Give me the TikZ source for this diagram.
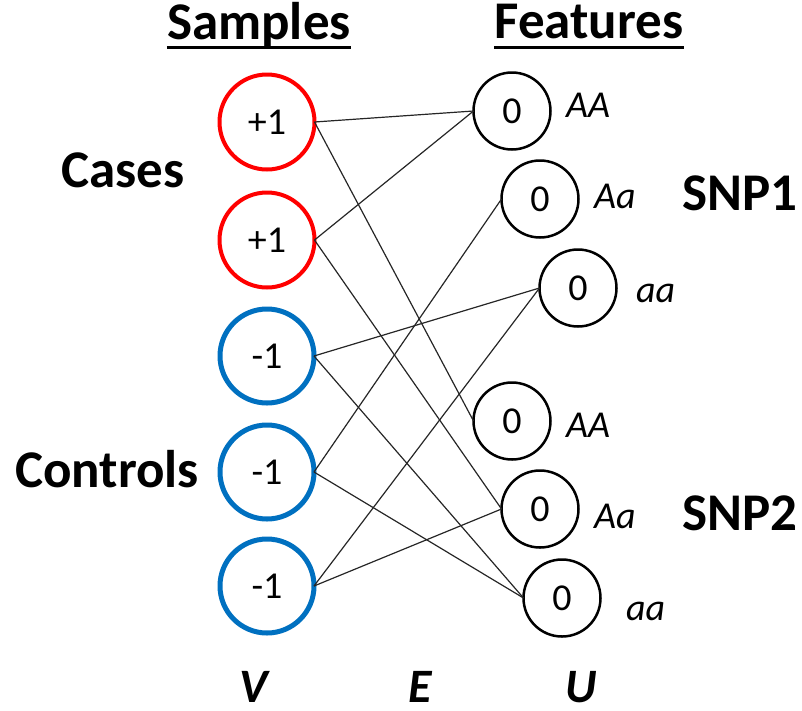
\documentclass[tikz,border=0pt]{standalone}
\usepackage{fontspec}
\setmainfont{Carlito}
\definecolor{casered}{RGB}{255,0,0}
\definecolor{ctrlblue}{RGB}{0,112,192}
\begin{document}
\begin{tikzpicture}[x=1pt,y=-1pt,
  casebox/.style={circle, draw=casered, line width=4pt, minimum size=95pt, inner sep=0pt, outer sep=0pt, font=\fontsize{38}{40}\selectfont},
  ctrlbox/.style={circle, draw=ctrlblue, line width=5pt, minimum size=94pt, inner sep=0pt, outer sep=0pt, font=\fontsize{38}{40}\selectfont},
  featbox/.style={circle, draw=black, line width=2.5pt, minimum size=77pt, inner sep=0pt, outer sep=0pt, font=\fontsize{38}{40}\selectfont},
  geno/.style={anchor=base west, inner sep=0pt, font=\fontsize{38}{40}\selectfont\itshape},
  biglabel/.style={anchor=base, inner sep=0pt, font=\fontsize{53}{60}\selectfont\bfseries},
  setlabel/.style={anchor=base, inner sep=0pt, font=\fontsize{48}{56}\selectfont\bfseries\itshape},
  edgeline/.style={line width=1.2pt, black!85},
  uline/.style={line width=3pt}]
\useasboundingbox (0,0) rectangle (802,710);

% samples
\node[casebox] (s1) at (267,122) {+1};
\node[casebox] (s2) at (267,240) {+1};
\node[ctrlbox] (s3) at (267,356) {-1};
\node[ctrlbox] (s4) at (267,472) {-1};
\node[ctrlbox] (s5) at (267,586) {-1};

% features
\node[featbox] (f1) at (512,111) {0};
\node[featbox] (f2) at (540,199) {0};
\node[featbox] (f3) at (578,288) {0};
\node[featbox] (f4) at (512,421) {0};
\node[featbox] (f5) at (540,509) {0};
\node[featbox] (f6) at (562,598) {0};

% genotype labels
\node[geno] (g1) at (566,117) {AA};
\node[geno] (g2) at (594,208) {Aa};
\node[geno] (g3) at (636,302) {aa};
\node[geno] (g4) at (566,437) {AA};
\node[geno] (g5) at (594,528) {Aa};
\node[geno] (g6) at (626,620) {aa};

% edges
\draw[edgeline] (s1.east) -- (f1.west);
\draw[edgeline] (s1.east) -- (f4.west);
\draw[edgeline] (s2.east) -- (f1.west);
\draw[edgeline] (s2.east) -- (f5.west);
\draw[edgeline] (s3.east) -- (f3.west);
\draw[edgeline] (s3.east) -- (f6.west);
\draw[edgeline] (s4.east) -- (f2.west);
\draw[edgeline] (s4.east) -- (f6.west);
\draw[edgeline] (s5.east) -- (f3.west);
\draw[edgeline] (s5.east) -- (f5.west);

% titles
\node[biglabel] (samples) at (259,39) {Samples};
\node[biglabel] (features) at (589,38) {Features};
\draw[uline] ([yshift=-8pt]samples.base west) -- ([yshift=-8pt]samples.base east);
\draw[uline] ([yshift=-9pt]features.base west) -- ([yshift=-9pt]features.base east);

\node[biglabel] (cases) at (123,187) {Cases};
\node[biglabel] (controls) at (107,487) {Controls};
\node[biglabel] (snp1) at (740,210) {SNP1};
\node[biglabel] (snp2) at (740,530) {SNP2};

\node[setlabel] (V) at (254,702) {V};
\node[setlabel] (E) at (420,702) {E};
\node[setlabel] (U) at (581,702) {U};
\end{tikzpicture}
\end{document}
